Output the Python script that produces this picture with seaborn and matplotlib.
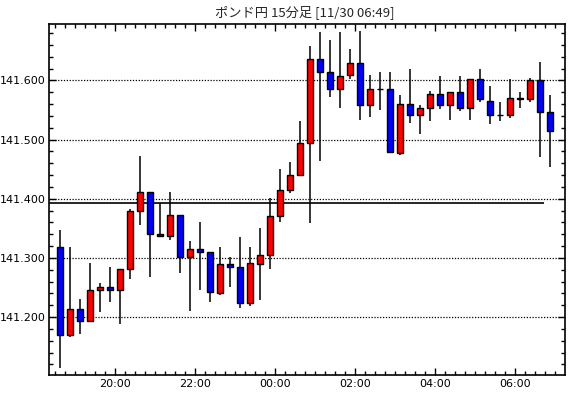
import matplotlib

matplotlib.use("Agg")
import matplotlib.pyplot as plt
import numpy as np
import pandas as pd
import seaborn as sns
from matplotlib.ticker import FixedLocator, MultipleLocator, FormatStrFormatter

COLOR_UP = "#ff0000"
COLOR_DOWN = "#0000ff"
COLOR_EDGE = "black"

TITLE = "ポンド円 15分足 [11/30 06:49]"
START_TIME = "2017-11-29 18:30"
TICK_HOURS = ["20:00", "22:00", "00:00", "02:00", "04:00", "06:00"]
REF_LEVEL = 141.393

opens = [
    141.319, 141.170, 141.214, 141.193, 141.246, 141.251, 141.246, 141.281, 141.380, 141.412,
    141.341, 141.337, 141.373, 141.301, 141.315, 141.310, 141.240, 141.290, 141.285, 141.223,
    141.290, 141.305, 141.371, 141.415, 141.441, 141.495, 141.637, 141.615, 141.586, 141.610,
    141.629, 141.559, 141.585, 141.585, 141.477, 141.561, 141.541, 141.554, 141.578, 141.559,
    141.581, 141.554, 141.602, 141.566, 141.542, 141.541, 141.571, 141.568, 141.600, 141.547,
]
highs = [
    141.348, 141.319, 141.231, 141.292, 141.258, 141.285, 141.281, 141.383, 141.472, 141.412,
    141.393, 141.412, 141.373, 141.329, 141.360, 141.310, 141.318, 141.302, 141.336, 141.318,
    141.350, 141.401, 141.451, 141.462, 141.531, 141.658, 141.682, 141.668, 141.682, 141.653,
    141.684, 141.610, 141.615, 141.615, 141.576, 141.620, 141.559, 141.583, 141.608, 141.581,
    141.608, 141.602, 141.620, 141.590, 141.563, 141.602, 141.581, 141.605, 141.632, 141.575,
]
lows = [
    141.113, 141.166, 141.171, 141.191, 141.208, 141.225, 141.188, 141.264, 141.355, 141.267,
    141.336, 141.330, 141.274, 141.211, 141.246, 141.225, 141.238, 141.250, 141.215, 141.218,
    141.229, 141.282, 141.360, 141.410, 141.441, 141.359, 141.464, 141.572, 141.554, 141.603,
    141.534, 141.539, 141.550, 141.477, 141.474, 141.528, 141.510, 141.532, 141.552, 141.534,
    141.549, 141.534, 141.564, 141.527, 141.531, 141.537, 141.553, 141.564, 141.471, 141.454,
]
closes = [
    141.170, 141.214, 141.193, 141.246, 141.251, 141.246, 141.281, 141.380, 141.412, 141.341,
    141.337, 141.373, 141.301, 141.315, 141.310, 141.242, 141.290, 141.285, 141.223, 141.292,
    141.305, 141.371, 141.415, 141.441, 141.495, 141.636, 141.615, 141.586, 141.608, 141.629,
    141.559, 141.585, 141.585, 141.479, 141.561, 141.541, 141.554, 141.578, 141.559, 141.581,
    141.554, 141.602, 141.568, 141.542, 141.542, 141.571, 141.568, 141.600, 141.547, 141.514,
]

df = pd.DataFrame({"open": opens, "high": highs, "low": lows, "close": closes})
df["time"] = pd.date_range(START_TIME, periods=len(df), freq="15min")
df["x"] = np.arange(len(df))
df["up"] = df["close"] >= df["open"]
df["body_low"] = df[["open", "close"]].min(axis=1)
df["body_h"] = (df["close"] - df["open"]).abs()

sns.set_theme(style="white")
plt.rcParams["font.family"] = ["Noto Sans CJK JP", "DejaVu Sans"]

fig = plt.figure(figsize=(5.7, 3.98), dpi=100)
ax = fig.add_axes([0.0868, 0.0578, 0.9912 - 0.0868, 0.9389 - 0.0578])

ax.vlines(df["x"], df["low"], df["high"], color=COLOR_EDGE, lw=1.1, zorder=2)
colors = np.where(df["up"], COLOR_UP, COLOR_DOWN)
ax.bar(
    df["x"],
    df["body_h"],
    bottom=df["body_low"],
    width=0.65,
    color=colors,
    edgecolor=COLOR_EDGE,
    linewidth=1.0,
    zorder=3,
)

ax.set_xlim(-1.05, len(df) + 0.5)
ax.set_ylim(141.102, 141.695)
ax.hlines(REF_LEVEL, -1.05, len(df) - 1.6, color="black", lw=1.2, zorder=1)

# hour ticks sit on the left edge of the candle that starts the hour
hhmm = df["time"].dt.strftime("%H:%M")
tick_pos = [df.loc[hhmm == h, "x"].iloc[0] - 0.5 for h in TICK_HOURS]
ax.xaxis.set_major_locator(FixedLocator(tick_pos))
ax.set_xticklabels(TICK_HOURS)
ax.xaxis.set_minor_locator(FixedLocator(np.arange(-0.5, len(df) + 0.5, 1.0)))

ax.yaxis.set_major_locator(MultipleLocator(0.1))
ax.yaxis.set_minor_locator(MultipleLocator(0.02))
ax.yaxis.set_major_formatter(FormatStrFormatter("%.3f"))

ax.tick_params(which="both", direction="in", top=True, right=True, bottom=True, left=True,
               colors="black", labelsize=8, width=1)
ax.tick_params(which="major", length=5, pad=3)
ax.tick_params(which="minor", length=3)
for label in ax.get_xticklabels() + ax.get_yticklabels():
    label.set_family("DejaVu Sans")

ax.grid(True, which="major", axis="y", color="black", ls=(0, (1, 1.3)), lw=0.9)
ax.set_axisbelow(True)
for spine in ax.spines.values():
    spine.set_color("black")
    spine.set_linewidth(1.2)

fig.text(0.535, 0.97, TITLE, ha="center", va="center", fontsize=9.5)
fig.savefig("out.png", dpi=100, facecolor="white")
